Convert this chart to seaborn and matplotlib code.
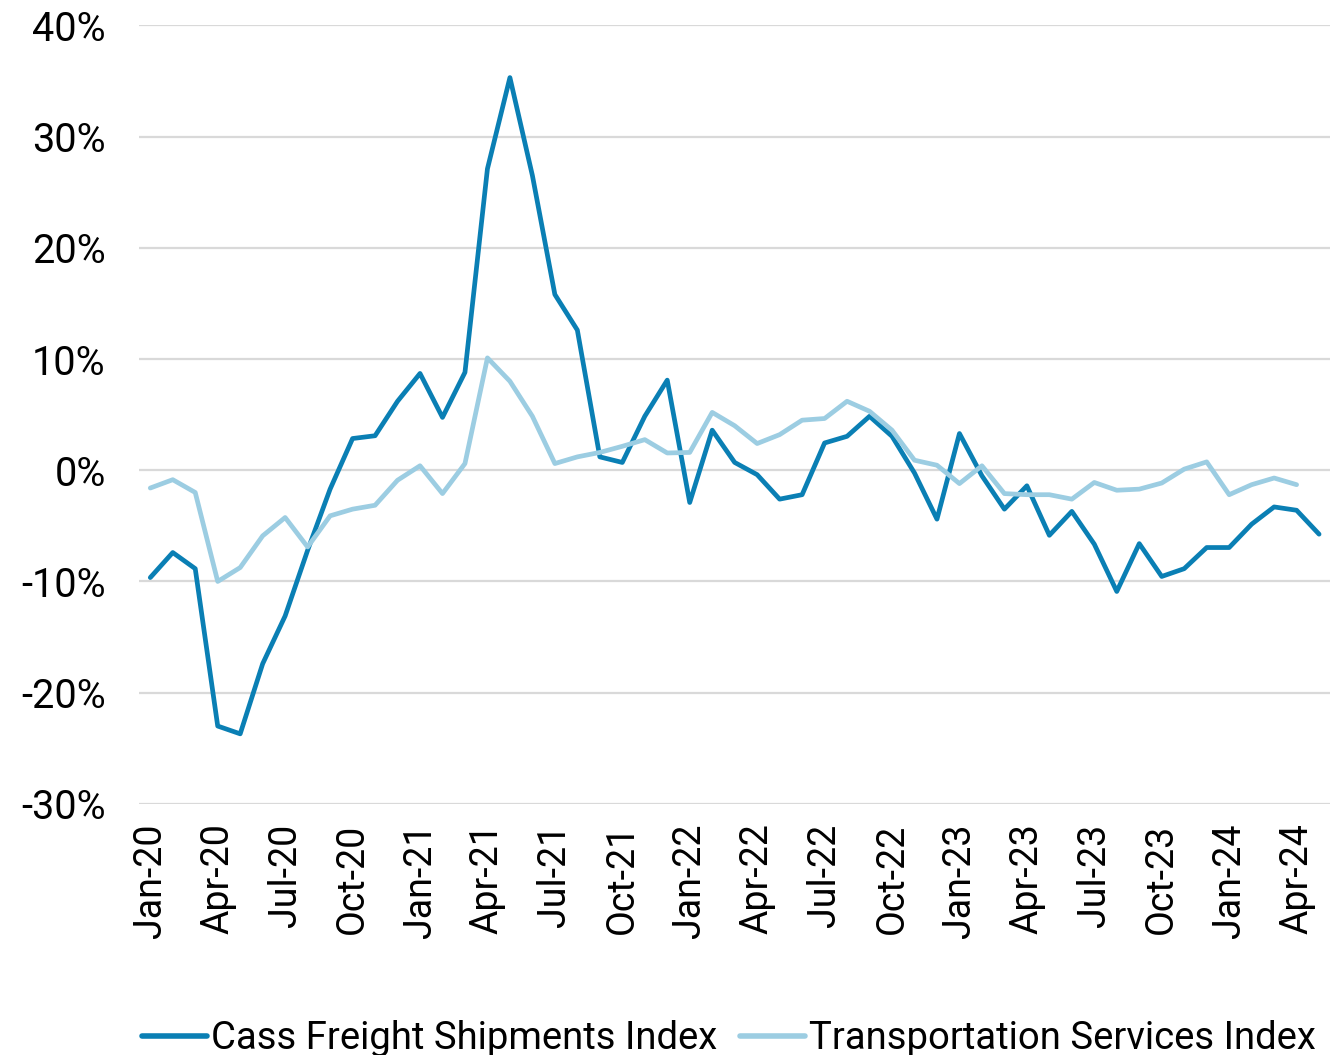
import pandas as pd
import numpy as np
import matplotlib
matplotlib.use("Agg")
import matplotlib.pyplot as plt
import seaborn as sns
from matplotlib.ticker import FuncFormatter

# ── Data (YoY % change, monthly Jan-20 .. May-24) ──────────────────────────
months = pd.date_range("2020-01-01", "2024-05-01", freq="MS").strftime("%b-%y").tolist()

cass = [
    -9.65, -7.4, -8.85, -23.0, -23.7, -17.4, -13.1, -7.2, -1.7, 2.85, 3.1, 6.2,
    8.7, 4.75, 8.8, 27.1, 35.3, 26.5, 15.8, 12.6, 1.2, 0.7, 4.85, 8.1,
    -2.9, 3.6, 0.7, -0.4, -2.6, -2.2, 2.45, 3.05, 4.85, 3.05, -0.25, -4.4,
    3.3, -0.5, -3.5, -1.4, -5.85, -3.7, -6.65, -10.9, -6.6, -9.55, -8.85, -6.95,
    -6.95, -4.85, -3.3, -3.6, -5.75,
]
tsi = [
    -1.6, -0.85, -2.0, -10.0, -8.75, -5.9, -4.25, -6.9, -4.1, -3.5, -3.15, -0.9,
    0.4, -2.1, 0.6, 10.1, 8.0, 4.85, 0.6, 1.2, 1.6, 2.15, 2.75, 1.55,
    1.6, 5.2, 4.0, 2.4, 3.2, 4.5, 4.65, 6.2, 5.3, 3.6, 0.9, 0.45,
    -1.2, 0.4, -2.1, -2.2, -2.2, -2.6, -1.1, -1.8, -1.7, -1.15, 0.1, 0.75,
    -2.2, -1.3, -0.7, -1.3, np.nan,
]
series_names = ["Cass Freight Shipments Index", "Transportation Services Index"]

# ── Long-form frame ────────────────────────────────────────────────────────
df = pd.DataFrame({"idx": range(len(months)), "month": months,
                   series_names[0]: cass, series_names[1]: tsi})
long = df.melt(id_vars=["idx", "month"], value_vars=series_names,
               var_name="series", value_name="yoy").dropna()

# ── Plot ───────────────────────────────────────────────────────────────────
sns.set_theme(style="white")
plt.rcParams["font.family"] = ["Roboto", "DejaVu Sans"]
plt.rcParams["text.color"] = "black"

fig, ax = plt.subplots(figsize=(13.37, 10.55), dpi=100)
fig.subplots_adjust(left=0.104, right=0.995, top=0.976, bottom=0.238)

sns.lineplot(data=long, x="idx", y="yoy", hue="series", hue_order=series_names,
             palette=["#0a7fb4", "#9ccde2"], linewidth=3.4, ax=ax)

ax.set_xlim(-0.5, len(months) - 0.5)
ax.set_ylim(-30, 40)
ax.set_yticks(range(-30, 41, 10))
ax.yaxis.set_major_formatter(FuncFormatter(lambda v, _: f"{v:.0f}%"))
ax.set_xticks(range(0, len(months), 3))
ax.set_xticklabels(months[::3], rotation=90)
ax.tick_params(axis="both", length=0, colors="black")
ax.tick_params(axis="x", labelsize=27, pad=14)
ax.tick_params(axis="y", labelsize=28.5, pad=24)
ax.set_xlabel("")
ax.set_ylabel("")

ax.grid(axis="y", color="#d9d9d9", linewidth=1.6)
ax.grid(axis="x", visible=False)
for s in ax.spines.values():
    s.set_visible(False)

leg = ax.legend(loc="lower center", bbox_to_anchor=(0.495, -0.345), ncol=2,
                frameon=False, fontsize=27.5, handlelength=1.7, handletextpad=0.1,
                columnspacing=0.6, borderaxespad=0)
for h in leg.get_lines():
    h.set_linewidth(4)

fig.savefig("out.png", dpi=100)
